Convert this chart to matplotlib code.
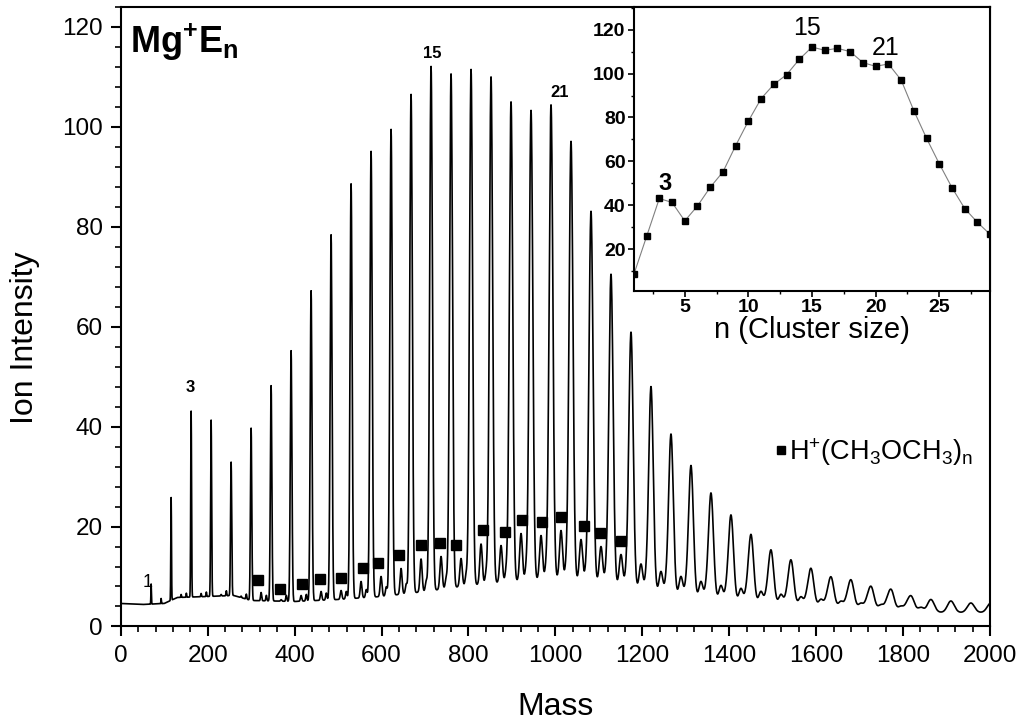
import numpy as np
import matplotlib.pyplot as plt
from matplotlib.ticker import MultipleLocator

plt.rcParams['font.family'] = ['Liberation Sans', 'DejaVu Sans']
plt.rcParams['mathtext.fontset'] = 'custom'
plt.rcParams['mathtext.rm'] = 'Liberation Sans'
plt.rcParams['mathtext.it'] = 'Liberation Sans'
plt.rcParams['mathtext.bf'] = 'Liberation Sans:bold'

# masses of the building blocks
MG = 24
ETHER = 46
PROTON = 1

# Mg+(E)n peak heights, n = 1..43 (the first 29 are also the inset)
mg_n = list(range(1, 44))
mg_height = [8.5, 25.8, 43.1, 41.3, 32.9, 39.7, 48.2, 55.2, 67.2, 78.4,
             88.6, 95.1, 99.5, 106.5, 112.1, 110.6, 111.5, 110.0, 105.0, 103.3,
             104.4, 97.1, 83.1, 70.5, 58.9, 48.0, 38.5, 32.2, 26.7, 22.3,
             18.4, 15.3, 13.3, 11.6, 9.9, 9.3, 8.0, 7.4, 6.1, 5.4,
             5.1, 4.7, 4.7]

# H+(E)n side peaks, n = 2..40
hp_n = list(range(2, 41))
hp_height = [5.6, 6.4, 6.6, 6.2, 6.0,
             6.8, 5.2, 6.2, 7.0, 7.2, 9.0, 10.0, 11.6, 13.5, 14.0,
             13.6, 16.5, 16.2, 18.6, 18.2, 19.2, 17.4, 16.0, 14.4,
             12.5, 11.0, 10.0, 9.0, 8.2, 7.6, 7.0, 6.4, 5.9, 5.4,
             5.0, 4.6, 4.3, 4.0, 3.8]

# small extra bumps between peaks (height above baseline), after Mg+(E)n, n = 2..38
bump_n = list(range(2, 39))
bump_height = [0.8, 0.9, 1.0, 1.0, 1.1, 1.2, 1.3, 1.4, 1.5, 1.6,
               1.8, 1.9, 2.0, 2.1, 2.2, 2.2, 2.2, 2.3, 2.3, 2.2,
               2.1, 2.0, 1.9, 1.8, 1.6, 1.5, 1.3, 1.2, 1.1, 1.0,
               0.9, 0.9, 0.8, 0.8, 0.7, 0.7, 0.6]

# baseline of the spectrum
base_mass = [0, 50, 100, 130, 200, 260, 300, 400, 500, 600, 700, 800, 900,
             1000, 1100, 1200, 1300, 1400, 1500, 1600, 1700, 1800, 1900, 2000]
base_level = [4.6, 4.4, 4.6, 5.8, 6.0, 6.2, 5.2, 5.0, 5.4, 6.0, 7.0, 8.2, 9.0,
              9.6, 8.8, 7.2, 5.8, 4.8, 4.2, 3.8, 3.4, 3.0, 2.8, 2.8]

# square markers for H+(CH3OCH3)n
sq_mass = [316, 367, 417, 458, 506, 557, 593, 641, 690, 734,
           772, 834, 883, 923, 970, 1014, 1066, 1103, 1152]
sq_value = [9.4, 7.4, 8.6, 9.5, 9.8, 11.7, 12.8, 14.4, 16.3, 16.7,
            16.3, 19.3, 18.9, 21.4, 20.9, 21.9, 20.1, 18.7, 17.1]


def peak_width(m):
    return 0.3 + 0.004 * m


def build_spectrum(mass):
    base = np.interp(mass, base_mass, base_level)
    spec = base.copy()
    for n, h in zip(mg_n, mg_height):
        c = MG + ETHER * n
        amp = h - np.interp(c, base_mass, base_level)
        spec += amp * np.exp(-0.5 * ((mass - c) / peak_width(c)) ** 2)
    for n, h in zip(hp_n, hp_height):
        c = PROTON + ETHER * n
        amp = max(h - np.interp(c, base_mass, base_level), 0.3)
        spec += amp * np.exp(-0.5 * ((mass - c) / (0.8 * peak_width(c))) ** 2)
    for n, h in zip(bump_n, bump_height):
        c = MG + ETHER * n + 35
        spec += h * np.exp(-0.5 * ((mass - c) / (0.7 * peak_width(c))) ** 2)
    return spec


mass = np.arange(0, 2000.5, 0.5)
spectrum = build_spectrum(mass)

fig = plt.figure(figsize=(10.24, 7.26), dpi=100)
ax = fig.add_axes([0.1179, 0.1371, 0.8489, 0.8533])
ax.plot(mass, spectrum, color='black', lw=1.2)
ax.plot(sq_mass, sq_value, 's', color='black', ms=7.5, ls='none',
        label=r'H$^{+}$(CH$_{3}$OCH$_{3}$)$_{\mathrm{n}}$')

ax.set_xlim(0, 2000)
ax.set_ylim(0, 124)
ax.xaxis.set_major_locator(MultipleLocator(200))
ax.xaxis.set_minor_locator(MultipleLocator(40))
ax.yaxis.set_major_locator(MultipleLocator(20))
ax.yaxis.set_minor_locator(MultipleLocator(4))
ax.tick_params(which='both', direction='out', top=False, right=False)
ax.tick_params(which='major', length=7, width=1.5, labelsize=17.5, pad=6)
ax.tick_params(which='minor', length=4, width=1.2)
for s in ax.spines.values():
    s.set_linewidth(1.5)

ax.set_xlabel('Mass', fontsize=23)
ax.xaxis.set_label_coords(0.5, -0.105)
ax.set_ylabel('Ion Intensity', fontsize=23)
ax.yaxis.set_label_coords(-0.093, 0.4656)

ax.text(22, 114.8, r'$\mathbf{Mg^{+}E_{n}}$', fontsize=26, ha='left', va='baseline')
ax.text(716, 113.8, '15', fontsize=12, fontweight='bold', ha='center', va='baseline')
ax.text(1010, 106, '21', fontsize=12, fontweight='bold', ha='center', va='baseline')
ax.text(159, 47, '3', fontsize=12, fontweight='bold', ha='center', va='baseline')
ax.text(63, 7.8, '1', fontsize=13, ha='center', va='baseline')

ax.legend(loc='center left', bbox_to_anchor=(0.753, 0.2817), frameon=False,
          fontsize=19.5, markerscale=0.8, handlelength=0.4, handletextpad=0.1,
          borderpad=0, borderaxespad=0)

# inset: peak intensity vs cluster size
axin = fig.add_axes([0.619, 0.5996, 0.348, 0.3908])
axin.plot(mg_n[:29], mg_height[:29], color='gray', lw=0.8, marker='s', ms=4.5,
          mfc='black', mec='black')
axin.set_xlim(1, 29)
axin.set_ylim(1.1, 130.35)
axin.xaxis.set_major_locator(MultipleLocator(5))
axin.xaxis.set_minor_locator(MultipleLocator(2.5))
axin.yaxis.set_major_locator(MultipleLocator(20))
axin.yaxis.set_minor_locator(MultipleLocator(10))
axin.tick_params(which='both', direction='out', top=False, right=False)
axin.tick_params(which='major', length=4, width=1.2, labelsize=14, pad=2)
axin.tick_params(which='minor', length=2.5, width=1.0)
for lab in axin.get_xticklabels() + axin.get_yticklabels():
    lab.set_fontweight('bold')
for s in axin.spines.values():
    s.set_linewidth(1.5)
axin.set_xlabel('n (Cluster size)', fontsize=21)
axin.xaxis.set_label_coords(0.5, -0.09)
axin.text(14.6, 117.7, '15', fontsize=18, ha='center', va='baseline')
axin.text(20.75, 108.6, '21', fontsize=18, ha='center', va='baseline')
axin.text(3.49, 47.0, '3', fontsize=17, fontweight='bold', ha='center', va='baseline')

fig.savefig('out.png', dpi=100)
